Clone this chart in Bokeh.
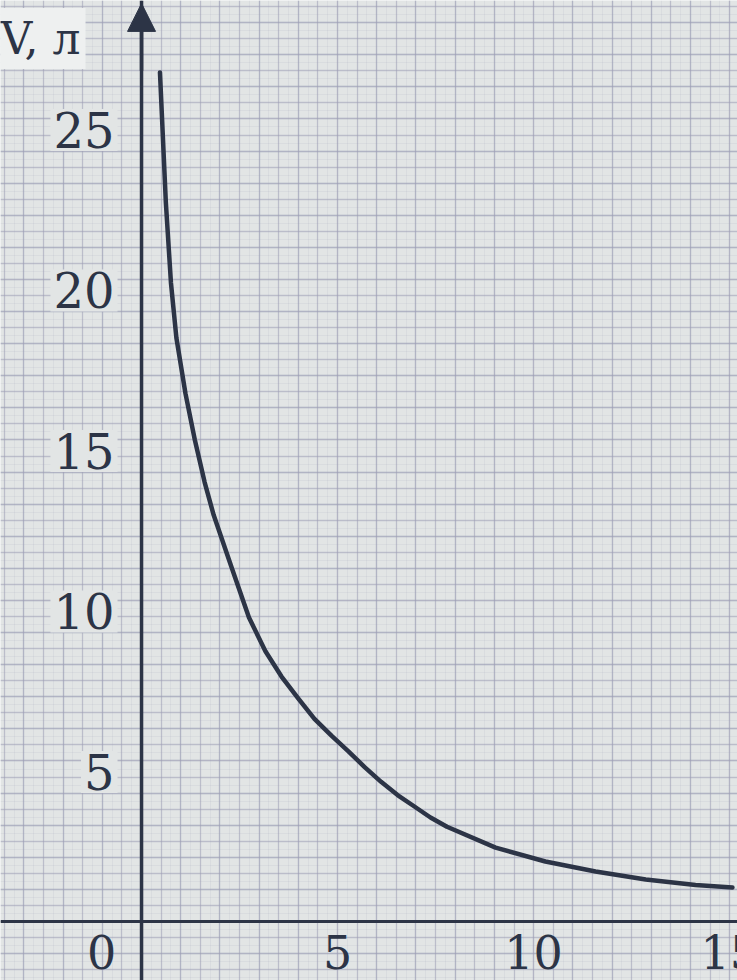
from bokeh.plotting import figure
from bokeh.models import Range1d, Grid, SingleIntervalTicker, Span, Arrow, NormalHead, ColumnDataSource
from bokeh.core.properties import value
from bokeh.embed import file_html
from bokeh.resources import INLINE

# curve: t (x axis) and V, л (y axis)
t_vals = [0.47, 0.62, 0.75, 0.89, 1.12, 1.36, 1.61, 1.84, 2.30, 2.74, 3.16, 3.57,
          4.00, 4.41, 4.85, 5.27, 5.69, 6.11, 6.53, 6.95, 7.37, 7.79, 9.03, 10.3,
          11.58, 12.86, 14.13, 15.07]
v_vals = [26.45, 22.4, 19.9, 18.17, 16.45, 15.0, 13.68, 12.66, 11.02, 9.47, 8.42, 7.63,
          6.94, 6.31, 5.78, 5.31, 4.81, 4.35, 3.94, 3.59, 3.24, 2.95, 2.30, 1.87,
          1.56, 1.31, 1.14, 1.06]

y_ticks = [5, 10, 15, 20, 25]
y_tick_labels = ["5", "10", "15", "20", "25"]
x_ticks = [5, 10, 15]
x_tick_labels = ["5", "10", "15"]
origin_label = ["0"]
y_axis_title = ["V, л"]

PAPER = "#e2e5e5"
GRID = "#9d9eb6"
INK = "#2c3446"
FONT = value("DejaVu Serif")

p = figure(width=737, height=980, output_backend="svg", toolbar_location=None,
           x_axis_location=None, y_axis_location=None,
           x_range=Range1d(-3.597, 15.2), y_range=Range1d(-1.838, 28.69),
           min_border=0, background_fill_color=PAPER, border_fill_color=PAPER)
p.outline_line_color = None

# graph paper
for dim in (0, 1):
    p.add_layout(Grid(dimension=dim, ticker=SingleIntervalTicker(interval=0.25),
                      grid_line_color=GRID, grid_line_alpha=0.12, grid_line_width=1))
    p.add_layout(Grid(dimension=dim, ticker=SingleIntervalTicker(interval=0.5),
                      grid_line_color=GRID, grid_line_alpha=0.5, grid_line_width=1.3))
    p.add_layout(Grid(dimension=dim, ticker=SingleIntervalTicker(interval=1),
                      grid_line_color=GRID, grid_line_alpha=0.3, grid_line_width=1.3))

# axes
p.add_layout(Span(location=0, dimension="height", line_color=INK, line_width=3.5))
p.add_layout(Span(location=0, dimension="width", line_color=INK, line_width=3))
p.add_layout(Arrow(end=NormalHead(size=28, fill_color=INK, line_color=INK),
                   x_start=0, y_start=26.5, x_end=0, y_end=28.6,
                   line_color=INK, line_width=3.5))

# curve
p.line(t_vals, v_vals, line_color=INK, line_width=4.5, line_join="round", line_cap="round")

# y tick labels
ysrc = ColumnDataSource(dict(x=[0] * len(y_ticks), y=y_ticks, t=y_tick_labels))
p.text(x="x", y="y", text="t", source=ysrc, text_font=FONT, text_font_size="48px",
       text_color=INK, text_align="right", text_baseline="middle",
       x_offset=-24, y_offset=11,
       background_fill_color=PAPER, background_fill_alpha=1.0, padding=3)

# x tick labels
xsrc = ColumnDataSource(dict(x=x_ticks, y=[0] * len(x_ticks), t=x_tick_labels))
p.text(x="x", y="y", text="t", source=xsrc, text_font=FONT, text_font_size="46px",
       text_color=INK, text_align="center", text_baseline="middle", y_offset=31)

# origin label
p.text(x=[0], y=[0], text=origin_label, text_font=FONT, text_font_size="46px",
       text_color=INK, text_align="center", text_baseline="middle",
       x_offset=-40, y_offset=31)

# axis title
p.text(x=[0], y=[28.69], text=y_axis_title, text_font=FONT, text_font_size="44px",
       text_color=INK, text_align="right", text_baseline="middle",
       x_offset=-56, y_offset=38,
       background_fill_color="#eef0f0", background_fill_alpha=1.0, padding=5)

open("out.html", "w").write(file_html(p, INLINE))
